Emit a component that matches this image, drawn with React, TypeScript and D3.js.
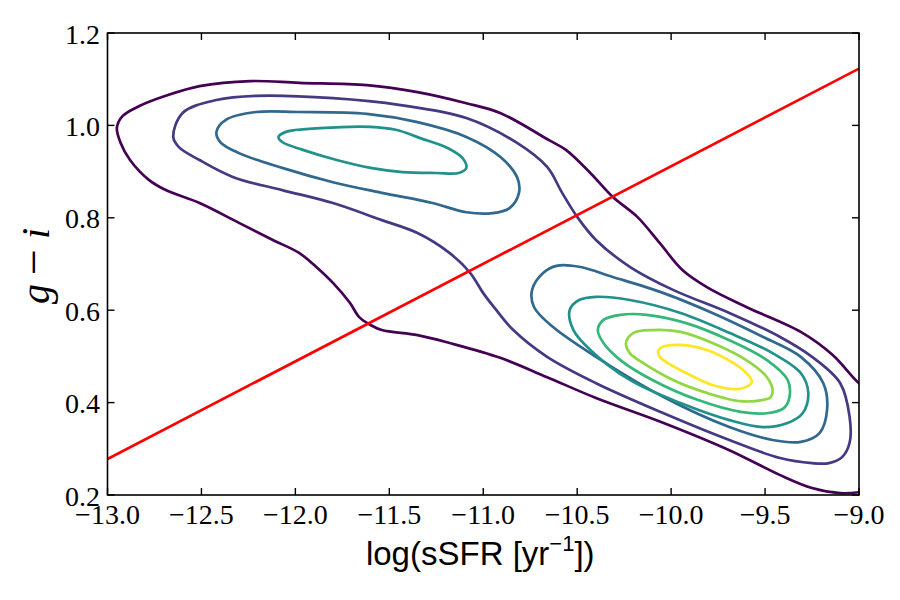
import React, { useEffect, useRef } from 'react';
import * as d3 from 'd3';

type Pt = [number, number];

const X_TICKS = [-13.0, -12.5, -12.0, -11.5, -11.0, -10.5, -10.0, -9.5, -9.0];
const Y_TICKS = [0.2, 0.4, 0.6, 0.8, 1.0, 1.2];

// red/blue separation line, given at the two x limits
const SPLIT_X = [-13.0, -9.0];
const SPLIT_Y = [0.278, 1.123];

// density contours, outermost level first (log sSFR, g-i)
// level 0 runs off the right edge, so it is an open path
const level0: Pt[] = [
  [-8.95, 0.43], [-9.0, 0.442], [-9.14, 0.503], [-9.31, 0.553], [-9.6, 0.607], [-9.81, 0.65],
  [-9.94, 0.687], [-10.06, 0.745], [-10.18, 0.802], [-10.31, 0.845], [-10.43, 0.897],
  [-10.56, 0.947], [-10.65, 0.968], [-10.91, 1.027], [-11.09, 1.048], [-11.35, 1.072],
  [-11.62, 1.087], [-11.98, 1.092], [-12.24, 1.096], [-12.51, 1.085], [-12.69, 1.064],
  [-12.83, 1.042], [-12.92, 1.02], [-12.95, 0.995], [-12.93, 0.962], [-12.88, 0.925],
  [-12.78, 0.882], [-12.69, 0.86], [-12.51, 0.832], [-12.3, 0.789], [-12.12, 0.752],
  [-11.98, 0.724], [-11.89, 0.694], [-11.8, 0.659], [-11.71, 0.616], [-11.66, 0.585],
  [-11.6, 0.568], [-11.54, 0.557], [-11.35, 0.546], [-11.18, 0.529], [-10.91, 0.497],
  [-10.66, 0.455], [-10.4, 0.41], [-10.04, 0.356], [-9.69, 0.297], [-9.42, 0.243],
  [-9.25, 0.215], [-9.1, 0.204], [-9.0, 0.206], [-8.95, 0.21],
];

const level1: Pt[] = [
  [-12.65, 0.975], [-12.6, 1.027], [-12.42, 1.055], [-12.21, 1.064], [-11.8, 1.059],
  [-11.44, 1.044], [-11.09, 1.016], [-10.82, 0.962], [-10.66, 0.91], [-10.58, 0.854],
  [-10.5, 0.802], [-10.4, 0.752], [-10.22, 0.694], [-9.99, 0.644], [-9.69, 0.594],
  [-9.42, 0.542], [-9.25, 0.499], [-9.1, 0.442], [-9.05, 0.369], [-9.05, 0.313],
  [-9.09, 0.282], [-9.16, 0.269], [-9.25, 0.269], [-9.42, 0.28], [-9.69, 0.319],
  [-10.04, 0.377], [-10.4, 0.442], [-10.66, 0.499], [-10.84, 0.557], [-10.93, 0.6],
  [-11.0, 0.637], [-11.07, 0.681], [-11.18, 0.724], [-11.35, 0.767], [-11.54, 0.795],
  [-11.8, 0.832], [-12.07, 0.86], [-12.33, 0.888], [-12.51, 0.925], [-12.62, 0.953],
];

const level2Red: Pt[] = [
  [-12.42, 0.986], [-12.37, 1.012], [-12.21, 1.029], [-11.98, 1.029], [-11.62, 1.025],
  [-11.35, 1.007], [-11.09, 0.975], [-10.91, 0.932], [-10.82, 0.888], [-10.81, 0.854],
  [-10.86, 0.821], [-10.95, 0.81], [-11.09, 0.812], [-11.27, 0.832], [-11.54, 0.854],
  [-11.8, 0.877], [-12.07, 0.908], [-12.3, 0.94], [-12.4, 0.964],
];

const level2Blue: Pt[] = [
  [-10.74, 0.644], [-10.68, 0.681], [-10.61, 0.696], [-10.49, 0.694], [-10.31, 0.672],
  [-10.04, 0.637], [-9.78, 0.594], [-9.51, 0.542], [-9.31, 0.499], [-9.19, 0.442],
  [-9.17, 0.384], [-9.21, 0.334], [-9.31, 0.315], [-9.46, 0.319], [-9.69, 0.347],
  [-10.04, 0.412], [-10.4, 0.499], [-10.63, 0.564], [-10.73, 0.607],
];

const level3Red: Pt[] = [
  [-12.09, 0.975], [-12.05, 0.986], [-11.87, 0.994], [-11.6, 0.997], [-11.46, 0.99],
  [-11.34, 0.973], [-11.19, 0.951], [-11.11, 0.929], [-11.09, 0.908], [-11.13, 0.897],
  [-11.25, 0.897], [-11.43, 0.899], [-11.6, 0.908], [-11.78, 0.925], [-11.96, 0.947],
  [-12.07, 0.964],
];

const level3Blue: Pt[] = [
  [-10.54, 0.6], [-10.49, 0.622], [-10.4, 0.629], [-10.22, 0.622], [-9.95, 0.594],
  [-9.69, 0.551], [-9.46, 0.507], [-9.31, 0.464], [-9.27, 0.421], [-9.3, 0.377],
  [-9.38, 0.356], [-9.51, 0.347], [-9.69, 0.362], [-9.95, 0.399], [-10.22, 0.449],
  [-10.43, 0.514], [-10.52, 0.557],
];

const level4: Pt[] = [
  [-10.39, 0.557], [-10.36, 0.579], [-10.27, 0.59], [-10.13, 0.59], [-9.92, 0.572],
  [-9.69, 0.535], [-9.49, 0.492], [-9.38, 0.449], [-9.37, 0.412], [-9.4, 0.388],
  [-9.49, 0.377], [-9.63, 0.38], [-9.86, 0.406], [-10.1, 0.449], [-10.27, 0.492],
  [-10.36, 0.529],
];

const level5: Pt[] = [
  [-10.24, 0.529], [-10.2, 0.551], [-10.1, 0.557], [-9.95, 0.553], [-9.78, 0.529],
  [-9.6, 0.492], [-9.49, 0.455], [-9.46, 0.427], [-9.47, 0.412], [-9.51, 0.406],
  [-9.63, 0.403], [-9.81, 0.421], [-9.99, 0.449], [-10.15, 0.486], [-10.22, 0.507],
];

const level6: Pt[] = [
  [-10.07, 0.51], [-10.05, 0.52], [-9.95, 0.525], [-9.81, 0.514], [-9.67, 0.486],
  [-9.6, 0.464], [-9.57, 0.445], [-9.6, 0.434], [-9.65, 0.429], [-9.78, 0.438],
  [-9.92, 0.464], [-10.02, 0.486], [-10.06, 0.499],
];

const CONTOURS: { level: number; pts: Pt[]; closed: boolean }[] = [
  { level: 0, pts: level0, closed: false },
  { level: 1, pts: level1, closed: true },
  { level: 2, pts: level2Red, closed: true },
  { level: 2, pts: level2Blue, closed: true },
  { level: 3, pts: level3Red, closed: true },
  { level: 3, pts: level3Blue, closed: true },
  { level: 4, pts: level4, closed: true },
  { level: 5, pts: level5, closed: true },
  { level: 6, pts: level6, closed: true },
];
const N_LEVELS = 7;

const W = 900;
const H = 600;
const M = { left: 107.5, right: 859, top: 33, bottom: 495 };

const App: React.FC = () => {
  const svgRef = useRef<SVGSVGElement>(null);

  useEffect(() => {
    if (!svgRef.current) return;
    const svg = d3.select(svgRef.current);
    svg.selectAll('*').remove();

    const x = d3.scaleLinear().domain([-13, -9]).range([M.left, M.right]);
    const y = d3.scaleLinear().domain([0.2, 1.2]).range([M.bottom, M.top]);

    svg.append('rect').attr('width', W).attr('height', H).attr('fill', 'white');

    svg.append('defs').append('clipPath').attr('id', 'plot-clip')
      .append('rect')
      .attr('x', M.left).attr('y', M.top)
      .attr('width', M.right - M.left).attr('height', M.bottom - M.top);

    const plot = svg.append('g').attr('clip-path', 'url(#plot-clip)');

    // contours
    const colour = (lvl: number) => d3.interpolateViridis(lvl / (N_LEVELS - 1));
    CONTOURS.forEach((c) => {
      const line = d3.line<Pt>()
        .x(d => x(d[0]))
        .y(d => y(d[1]))
        .curve(c.closed ? d3.curveCatmullRomClosed.alpha(0.5) : d3.curveCatmullRom.alpha(0.5));
      plot.append('path')
        .attr('d', line(c.pts))
        .attr('fill', 'none')
        .attr('stroke', colour(c.level))
        .attr('stroke-width', 2.7)
        .attr('stroke-linejoin', 'round');
    });

    // dividing line
    plot.append('line')
      .attr('x1', x(SPLIT_X[0])).attr('y1', y(SPLIT_Y[0]))
      .attr('x2', x(SPLIT_X[1])).attr('y2', y(SPLIT_Y[1]))
      .attr('stroke', '#ff0000')
      .attr('stroke-width', 2.7);

    // frame
    svg.append('rect')
      .attr('x', M.left).attr('y', M.top)
      .attr('width', M.right - M.left).attr('height', M.bottom - M.top)
      .attr('fill', 'none').attr('stroke', 'black').attr('stroke-width', 1.6);

    const TL = 7;
    const ticks = svg.append('g').attr('stroke', 'black').attr('stroke-width', 1.4);
    X_TICKS.forEach((t) => {
      ticks.append('line').attr('x1', x(t)).attr('x2', x(t)).attr('y1', M.bottom).attr('y2', M.bottom - TL);
      ticks.append('line').attr('x1', x(t)).attr('x2', x(t)).attr('y1', M.top).attr('y2', M.top + TL);
    });
    Y_TICKS.forEach((t) => {
      ticks.append('line').attr('x1', M.left).attr('x2', M.left + TL).attr('y1', y(t)).attr('y2', y(t));
      ticks.append('line').attr('x1', M.right).attr('x2', M.right - TL).attr('y1', y(t)).attr('y2', y(t));
    });

    const fmt = d3.format('.1f');
    const serif = '"Liberation Serif", "DejaVu Serif", serif';

    svg.append('g').selectAll('text')
      .data(X_TICKS).join('text')
      .attr('x', d => x(d)).attr('y', 524)
      .attr('text-anchor', 'middle')
      .style('font-family', serif).style('font-size', '28px')
      .text(d => fmt(d));

    svg.append('g').selectAll('text')
      .data(Y_TICKS).join('text')
      .attr('x', 100).attr('y', d => y(d) + 10.5)
      .attr('text-anchor', 'end')
      .style('font-family', serif).style('font-size', '28px')
      .text(d => fmt(d));

    // x label
    const xl = svg.append('text')
      .attr('x', (M.left + M.right) / 2 - 3).attr('y', 565)
      .attr('text-anchor', 'middle')
      .style('font-family', '"Liberation Sans", Arial, sans-serif')
      .style('font-size', '33px');
    xl.append('tspan').text('log(sSFR [yr');
    xl.append('tspan').attr('dy', -14).style('font-size', '22px').text('−1');
    xl.append('tspan').attr('dy', 14).text('])');

    // y label
    const yl = svg.append('text')
      .attr('transform', `translate(49, ${(M.top + M.bottom) / 2 + 2}) rotate(-90)`)
      .attr('text-anchor', 'middle')
      .style('font-family', serif)
      .style('font-size', '40px')
      .style('white-space', 'pre');
    yl.append('tspan').style('font-style', 'italic').text('g');
    yl.append('tspan').attr('dx', 9).style('font-size', '46px').text('−');
    yl.append('tspan').attr('dx', 10).style('font-style', 'italic').text('i');
  }, []);

  return (
    <div style={{ position: 'fixed', left: 0, top: 0 }}>
      <svg ref={svgRef} width={W} height={H} style={{ display: 'block' }} />
    </div>
  );
};

export default App;
